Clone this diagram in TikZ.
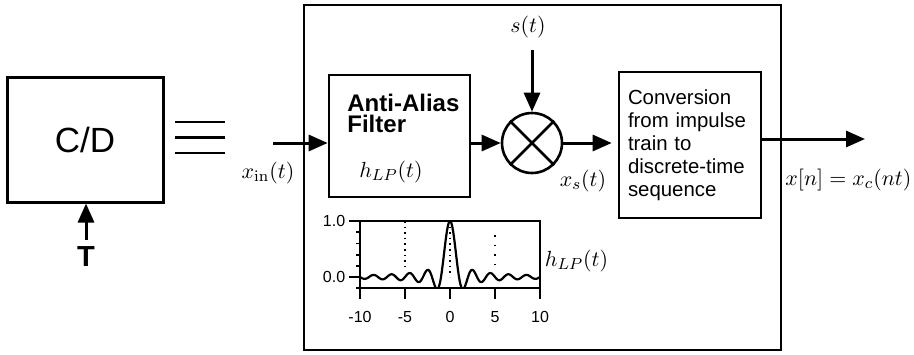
\documentclass[tikz,border=0pt]{standalone}
\usepackage[no-math]{fontspec}
\setmainfont{Liberation Sans}
\usetikzlibrary{arrows.meta, positioning, calc}

\begin{document}
\begin{tikzpicture}[x=0.5pt, y=-0.5pt,
    blk/.style={rectangle, draw, line width=1.3pt, inner sep=0pt},
    bigbox/.style={rectangle, draw, line width=0.7pt, inner sep=0pt},
    mult/.style={circle, draw, line width=1.3pt, minimum size=30pt, inner sep=0pt},
    arrow/.style={-{Triangle[length=9.5pt, width=8pt]}, line width=1.5pt},
    sig/.style={inner sep=0pt, font=\fontsize{11}{13}\selectfont},
    ticklbl/.style={inner sep=0pt, font=\fontsize{8}{9}\selectfont}
]
\useasboundingbox (0,0) rectangle (914,354);

% left: the C/D block
\node[blk, line width=1.5pt, minimum width=78pt, minimum height=62.5pt, font=\fontsize{17.5}{20}\selectfont] (cd) at (85,139.5) {C/D};
\node[inner sep=0pt, font=\bfseries\fontsize{14.5}{16}\selectfont] (T) at (86,257) {T};
\draw[arrow, shorten <=3.5pt] (T.north) -- (T.north |- cd.south);
\foreach \y in {122,137.5,153}
    \draw[line width=1.3pt] (175,\y) -- (225,\y);

% right: what is inside
\node[bigbox, minimum width=238.5pt, minimum height=172.5pt] (sys) at (542.5,177.5) {};
\node[blk, minimum width=70.5pt, minimum height=61pt] (filt) at (399.5,136) {};
\node[inner sep=0pt, anchor=north west, align=left, font=\bfseries\fontsize{12}{10.5}\selectfont] (aaf) at (347,94) {Anti-Alias\\Filter};
\node[sig] (hfilt) at (391,172) {$h_{LP}(t)$};
\node[mult] (mul) at (532,143) {};
\draw[line width=1.3pt] (mul.north west) -- (mul.south east) (mul.north east) -- (mul.south west);
\node[sig] (s) at (528,27) {$s(t)$};
\node[blk, minimum width=71pt, minimum height=73pt, inner xsep=4.5pt, text width=62pt, align=left, font=\fontsize{10.2}{11.5}\selectfont] (conv) at (690,145) {Conversion\\from impulse\\train to\\discrete-time\\sequence};

\coordinate (in) at (273,143);
\coordinate (out) at (865,139);
\draw[arrow] (in) -- (in -| filt.west);
\draw[arrow] (filt.east |- mul) -- (mul.west);
\draw[arrow, shorten <=6pt] (s.south -| mul) -- (mul.north);
\draw[arrow, shorten >=3pt] (mul.east) -- (mul.east -| conv.west);
\draw[arrow] (conv.east |- out) -- (out);
\node[sig] (xin) at (268,173) {$x_{\mathrm{in}}(t)$};
\node[sig] (xs) at (583,181) {$x_s(t)$};
\node[sig, anchor=west] (xn) at (785,180) {$x[n] = x_c(nt)$};

% impulse response of the filter
\begin{scope}[shift={(450,277)}, x=4.5pt, y=28pt]
    \draw[line width=0.9pt] (-10,-0.2) rectangle (10,1);
    \foreach \v in {-0.2,0.2,0.4,0.6,0.8}
        \draw[line width=0.9pt] (-10,\v) -- (-10.45,\v);
    \foreach \v in {0,1}
        \draw[line width=0.9pt] (-10,\v) -- (-11.2,\v);
    \foreach \t [count=\i] in {-10,-5,0,5,10} {
        \draw[line width=0.9pt] (\t,-0.2) -- (\t,-0.4);
        \node[ticklbl] (xt\i) at (\t,-0.714) {\t};
    }
    \node[ticklbl, anchor=east] (yt1) at (-11.6,1) {1.0};
    \node[ticklbl, anchor=east] (yt0) at (-11.6,0) {0.0};
    \draw[dotted, line width=0.8pt] (-5,1) -- (-5,0.15);
    \draw[dotted, line width=0.8pt] (0,1) -- (0,0);
    \draw[loosely dotted, line width=0.8pt] (5,0.75) -- (5,0.2);
    \begin{scope}
        \clip (-10,-0.2) rectangle (10,1);
        \draw[line width=1.1pt, line join=round] plot[domain=-10:10, samples=200, smooth] (\x,{sin(180*\x)/(pi*\x)});
    \end{scope}
    \node[sig, anchor=west] (hplot) at (10.5,0.29) {$h_{LP}(t)$};
\end{scope}
\end{tikzpicture}
\end{document}
